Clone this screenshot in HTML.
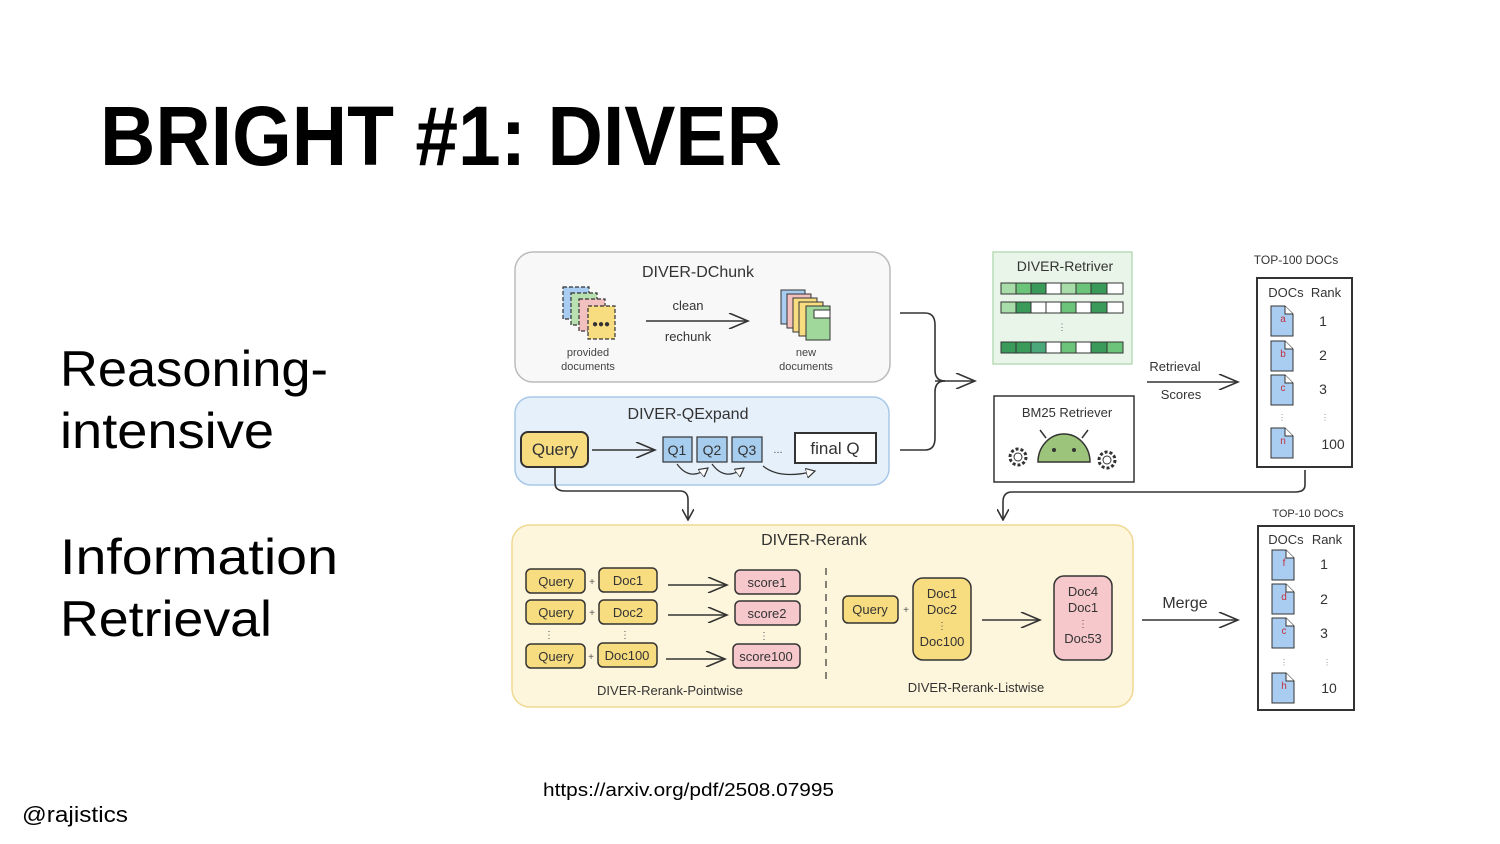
<!DOCTYPE html>
<html><head><meta charset="utf-8"><style>
html,body{margin:0;padding:0;background:#fff;}
body{width:1500px;height:844px;overflow:hidden;position:relative;font-family:"Liberation Sans",sans-serif;}
svg{position:absolute;left:0;top:0;}
</style></head><body>
<svg width="1500" height="844" viewBox="0 0 1500 844" xmlns="http://www.w3.org/2000/svg" font-family="Liberation Sans, sans-serif">
<defs>
<marker id="ah" viewBox="0 0 12 12" refX="11" refY="6" markerWidth="12" markerHeight="12" orient="auto" markerUnits="userSpaceOnUse"><path d="M0,0 L11,6 L0,12" fill="none" stroke="#333" stroke-width="1.6"/></marker>
<marker id="ah2" viewBox="0 0 20 16" refX="19" refY="8" markerWidth="22" markerHeight="16" orient="auto" markerUnits="userSpaceOnUse"><path d="M0,0 L19,8 L0,16" fill="none" stroke="#333" stroke-width="1.6"/></marker>
<marker id="tri" viewBox="0 0 10 10" refX="9" refY="5" markerWidth="10" markerHeight="10" orient="auto" markerUnits="userSpaceOnUse"><path d="M0,0 L9,5 L0,10 Z" fill="#fff" stroke="#333" stroke-width="1.2"/></marker>
<g id="doc"><path d="M0,0 H14 L22,8 V30 H0 Z" fill="#a9cdf0" stroke="#333" stroke-width="1"/><path d="M14,0 V8 H22" fill="#fff" stroke="#333" stroke-width="1"/></g>
</defs>

<!-- Title & side text -->
<text x="100" y="165" font-size="84" font-weight="bold" fill="#000" textLength="682" lengthAdjust="spacingAndGlyphs">BRIGHT #1: DIVER</text>
<text x="60" y="386" font-size="50" fill="#000" textLength="268" lengthAdjust="spacingAndGlyphs">Reasoning-</text>
<text x="60" y="448" font-size="50" fill="#000" textLength="214" lengthAdjust="spacingAndGlyphs">intensive</text>
<text x="60" y="574" font-size="50" fill="#000" textLength="278" lengthAdjust="spacingAndGlyphs">Information</text>
<text x="60" y="636" font-size="50" fill="#000" textLength="212" lengthAdjust="spacingAndGlyphs">Retrieval</text>
<text x="543" y="796" font-size="18" fill="#000" textLength="291" lengthAdjust="spacingAndGlyphs">https://arxiv.org/pdf/2508.07995</text>
<text x="22" y="822" font-size="22" fill="#000" textLength="106" lengthAdjust="spacingAndGlyphs">@rajistics</text>

<!-- DChunk -->
<rect x="515" y="252" width="375" height="130" rx="18" fill="#f8f8f8" stroke="#bbb" stroke-width="1.5"/>
<text x="698" y="277" font-size="16" text-anchor="middle" fill="#333">DIVER-DChunk</text>
<g stroke="#333" stroke-width="1.2" stroke-dasharray="4,2">
<rect x="563" y="287" width="26" height="32" fill="#a9cdf0"/>
<rect x="571" y="293" width="26" height="32" fill="#b8e0b0"/>
<rect x="579" y="299" width="26" height="32" fill="#f3c0c0"/>
<rect x="588" y="306" width="27" height="33" fill="#f8dc80"/>
</g>
<text x="601" y="327" font-size="10" text-anchor="middle" fill="#333">●●●</text>
<text x="588" y="356" font-size="11" text-anchor="middle" fill="#444">provided</text>
<text x="588" y="370" font-size="11" text-anchor="middle" fill="#444">documents</text>
<line x1="646" y1="321" x2="748" y2="321" stroke="#333" stroke-width="1.6" marker-end="url(#ah2)"/>
<text x="688" y="310" font-size="13" text-anchor="middle" fill="#333">clean</text>
<text x="688" y="341" font-size="13" text-anchor="middle" fill="#333">rechunk</text>
<g stroke="#333" stroke-width="1">
<rect x="781" y="290" width="24" height="34" fill="#a9cdf0"/>
<rect x="787" y="294" width="24" height="34" fill="#f3c0c0"/>
<rect x="793" y="298" width="24" height="34" fill="#f8dc80"/>
<rect x="799" y="302" width="24" height="34" fill="#f8dc80"/>
<rect x="806" y="306" width="24" height="34" fill="#9fd89a"/>
<rect x="814" y="310" width="16" height="8" fill="#fff"/>
</g>
<text x="806" y="356" font-size="11" text-anchor="middle" fill="#444">new</text>
<text x="806" y="370" font-size="11" text-anchor="middle" fill="#444">documents</text>

<!-- QExpand -->
<rect x="515" y="397" width="374" height="88" rx="16" fill="#e6f0fa" stroke="#a8c8e8" stroke-width="1.5"/>
<text x="688" y="419" font-size="16" text-anchor="middle" fill="#333">DIVER-QExpand</text>
<rect x="521" y="432" width="67" height="35" rx="7" fill="#f8dc80" stroke="#333" stroke-width="2"/>
<text x="555" y="455" font-size="17" text-anchor="middle" fill="#333">Query</text>
<line x1="592" y1="450" x2="655" y2="450" stroke="#333" stroke-width="1.6" marker-end="url(#ah2)"/>
<g stroke="#333" stroke-width="1.2" fill="#a7cdee">
<rect x="663" y="437" width="29" height="25"/><rect x="697" y="437" width="30" height="25"/><rect x="732" y="437" width="30" height="25"/>
</g>
<text x="677" y="455" font-size="14" text-anchor="middle" fill="#333">Q1</text>
<text x="712" y="455" font-size="14" text-anchor="middle" fill="#333">Q2</text>
<text x="747" y="455" font-size="14" text-anchor="middle" fill="#333">Q3</text>
<text x="778" y="453" font-size="11" text-anchor="middle" fill="#555">...</text>
<rect x="795" y="433" width="81" height="30" fill="#fff" stroke="#333" stroke-width="2"/>
<text x="835" y="454" font-size="17" text-anchor="middle" fill="#333">final Q</text>
<g fill="none" stroke="#333" stroke-width="1.2">
<path d="M677,464 Q690,482 708,468" marker-end="url(#tri)"/>
<path d="M712,464 Q725,482 744,468" marker-end="url(#tri)"/>
<path d="M763,466 Q780,480 815,471" marker-end="url(#tri)"/>
</g>

<!-- bracket -->
<g fill="none" stroke="#333" stroke-width="1.6">
<path d="M900,313 H925 Q935,313 935,325 V370 Q935,381 945,381"/>
<path d="M900,450 H925 Q935,450 935,438 V392 Q935,381 945,381"/>
<line x1="935" y1="381" x2="975" y2="381" marker-end="url(#ah2)"/>
<path d="M555,467 V483 Q555,491 565,491 H680 Q688,491 688,500 V520" marker-end="url(#ah)"/>
<path d="M1305,470 V485 Q1305,492 1295,492 H1012 Q1003,492 1003,502 V520" marker-end="url(#ah)"/>
</g>

<!-- Retriver -->
<rect x="993" y="252" width="139" height="112" fill="#e8f5e8" stroke="#b8dcb8" stroke-width="1.5"/>
<text x="1065" y="271" font-size="14" text-anchor="middle" fill="#333">DIVER-Retriver</text>
<g stroke="#333" stroke-width="1">
<rect x="1001" y="283" width="15" height="11" fill="#a8dca8"/><rect x="1016" y="283" width="15" height="11" fill="#6cc47a"/><rect x="1031" y="283" width="15" height="11" fill="#3a9a5a"/><rect x="1046" y="283" width="15" height="11" fill="#fff"/><rect x="1061" y="283" width="15" height="11" fill="#a8dca8"/><rect x="1076" y="283" width="15" height="11" fill="#6cc47a"/><rect x="1091" y="283" width="16" height="11" fill="#3a9a5a"/><rect x="1107" y="283" width="16" height="11" fill="#fff"/>
<rect x="1001" y="302" width="15" height="11" fill="#a8dca8"/><rect x="1016" y="302" width="15" height="11" fill="#3a9a5a"/><rect x="1031" y="302" width="15" height="11" fill="#fff"/><rect x="1046" y="302" width="15" height="11" fill="#fff"/><rect x="1061" y="302" width="15" height="11" fill="#6cc47a"/><rect x="1076" y="302" width="15" height="11" fill="#fff"/><rect x="1091" y="302" width="16" height="11" fill="#3a9a5a"/><rect x="1107" y="302" width="16" height="11" fill="#fff"/>
<rect x="1001" y="342" width="15" height="11" fill="#3a9a5a"/><rect x="1016" y="342" width="15" height="11" fill="#3a9a5a"/><rect x="1031" y="342" width="15" height="11" fill="#4aa87a"/><rect x="1046" y="342" width="15" height="11" fill="#fff"/><rect x="1061" y="342" width="15" height="11" fill="#6cc47a"/><rect x="1076" y="342" width="15" height="11" fill="#fff"/><rect x="1091" y="342" width="16" height="11" fill="#3a9a5a"/><rect x="1107" y="342" width="16" height="11" fill="#6cc47a"/>
</g>
<text x="1062" y="330" font-size="9" text-anchor="middle" fill="#666">⋮</text>

<!-- BM25 -->
<rect x="994" y="396" width="140" height="86" fill="#fff" stroke="#333" stroke-width="1.5"/>
<text x="1067" y="417" font-size="13" text-anchor="middle" fill="#333">BM25 Retriever</text>
<path d="M1038,462 A26,28 0 0 1 1090,462 Z" fill="#9cc47a" stroke="#333" stroke-width="1.5"/>
<line x1="1046" y1="438" x2="1040" y2="430" stroke="#333" stroke-width="1.5"/>
<line x1="1082" y1="438" x2="1088" y2="430" stroke="#333" stroke-width="1.5"/>
<circle cx="1054" cy="450" r="2" fill="#333"/><circle cx="1074" cy="450" r="2" fill="#333"/>
<circle cx="1018" cy="457" r="8" fill="#fff" stroke="#333" stroke-width="3" stroke-dasharray="3,2"/><circle cx="1018" cy="457" r="4" fill="none" stroke="#333" stroke-width="1"/>
<circle cx="1107" cy="460" r="8" fill="#fff" stroke="#333" stroke-width="3" stroke-dasharray="3,2"/><circle cx="1107" cy="460" r="4" fill="none" stroke="#333" stroke-width="1"/>

<!-- Retrieval scores -->
<line x1="1147" y1="382" x2="1238" y2="382" stroke="#333" stroke-width="1.6" marker-end="url(#ah2)"/>
<text x="1175" y="371" font-size="13" text-anchor="middle" fill="#333">Retrieval</text>
<text x="1181" y="399" font-size="13" text-anchor="middle" fill="#333">Scores</text>

<!-- TOP-100 -->
<text x="1296" y="264" font-size="12" text-anchor="middle" fill="#333">TOP-100 DOCs</text>
<rect x="1257" y="278" width="95" height="189" fill="#fff" stroke="#333" stroke-width="2"/>
<text x="1286" y="297" font-size="13" text-anchor="middle" fill="#333">DOCs</text>
<text x="1326" y="297" font-size="13" text-anchor="middle" fill="#333">Rank</text>
<use href="#doc" x="1271" y="306"/><use href="#doc" x="1271" y="341"/><use href="#doc" x="1271" y="375"/><use href="#doc" x="1271" y="428"/>
<g font-size="10" fill="#c03040" text-anchor="middle"><text x="1283" y="322">a</text><text x="1283" y="357">b</text><text x="1283" y="391">c</text><text x="1283" y="444">n</text></g>
<text x="1323" y="326" font-size="14" text-anchor="middle" fill="#333">1</text>
<text x="1323" y="360" font-size="14" text-anchor="middle" fill="#333">2</text>
<text x="1323" y="394" font-size="14" text-anchor="middle" fill="#333">3</text>
<text x="1282" y="420" font-size="8" text-anchor="middle" fill="#888">⋮</text><text x="1325" y="420" font-size="8" text-anchor="middle" fill="#888">⋮</text>
<text x="1333" y="449" font-size="14" text-anchor="middle" fill="#333">100</text>

<!-- Rerank -->
<rect x="512" y="525" width="621" height="182" rx="18" fill="#fdf6dc" stroke="#f0d890" stroke-width="1.5"/>
<text x="814" y="545" font-size="16" text-anchor="middle" fill="#333">DIVER-Rerank</text>
<g stroke="#333" stroke-width="1.5">
<rect x="526" y="569" width="59" height="24" rx="5" fill="#f8dc80"/><rect x="599" y="568" width="58" height="24" rx="5" fill="#f8dc80"/>
<rect x="526" y="600" width="59" height="24" rx="5" fill="#f8dc80"/><rect x="599" y="600" width="58" height="24" rx="5" fill="#f8dc80"/>
<rect x="526" y="644" width="59" height="24" rx="5" fill="#f8dc80"/><rect x="598" y="643" width="59" height="24" rx="5" fill="#f8dc80"/>
<rect x="735" y="570" width="65" height="24" rx="5" fill="#f6c8cc"/><rect x="735" y="601" width="65" height="24" rx="5" fill="#f6c8cc"/><rect x="733" y="644" width="67" height="24" rx="5" fill="#f6c8cc"/>
<rect x="843" y="596" width="55" height="27" rx="5" fill="#f8dc80"/>
<rect x="913" y="578" width="58" height="82" rx="10" fill="#f8dc80"/>
<rect x="1054" y="576" width="58" height="84" rx="10" fill="#f6c8cc"/>
</g>
<g font-size="13" text-anchor="middle" fill="#333">
<text x="556" y="586">Query</text><text x="628" y="585">Doc1</text>
<text x="556" y="617">Query</text><text x="628" y="617">Doc2</text>
<text x="556" y="661">Query</text><text x="627" y="660">Doc100</text>
<text x="767" y="587">score1</text><text x="767" y="618">score2</text><text x="766" y="661">score100</text>
<text x="870" y="614">Query</text>
<text x="942" y="598">Doc1</text><text x="942" y="614">Doc2</text><text x="942" y="646">Doc100</text>
<text x="1083" y="596">Doc4</text><text x="1083" y="612">Doc1</text><text x="1083" y="643">Doc53</text>
<text x="670" y="695">DIVER-Rerank-Pointwise</text>
<text x="976" y="692">DIVER-Rerank-Listwise</text>
</g>
<g font-size="10" text-anchor="middle" fill="#555">
<text x="592" y="585">+</text><text x="592" y="616">+</text><text x="591" y="660">+</text><text x="906" y="613">+</text>
<text x="549" y="638">⋮</text><text x="625" y="638">⋮</text><text x="764" y="639">⋮</text><text x="942" y="629">⋮</text><text x="1083" y="627">⋮</text>
</g>
<line x1="826" y1="568" x2="826" y2="680" stroke="#333" stroke-width="1.2" stroke-dasharray="7,6"/>
<g stroke="#333" stroke-width="1.6" marker-end="url(#ah2)">
<line x1="668" y1="585" x2="727" y2="585"/><line x1="668" y1="615" x2="727" y2="615"/><line x1="666" y1="659" x2="725" y2="659"/>
<line x1="982" y1="620" x2="1040" y2="620"/>
<line x1="1142" y1="620" x2="1238" y2="620"/>
</g>
<text x="1185" y="608" font-size="16" text-anchor="middle" fill="#333">Merge</text>

<!-- TOP-10 -->
<text x="1308" y="517" font-size="11" text-anchor="middle" fill="#333">TOP-10 DOCs</text>
<rect x="1258" y="526" width="96" height="184" fill="#fff" stroke="#333" stroke-width="2"/>
<text x="1286" y="544" font-size="13" text-anchor="middle" fill="#333">DOCs</text>
<text x="1327" y="544" font-size="13" text-anchor="middle" fill="#333">Rank</text>
<use href="#doc" x="1272" y="550"/><use href="#doc" x="1272" y="584"/><use href="#doc" x="1272" y="618"/><use href="#doc" x="1272" y="673"/>
<g font-size="10" fill="#c03040" text-anchor="middle"><text x="1284" y="566">f</text><text x="1284" y="600">d</text><text x="1284" y="634">c</text><text x="1284" y="689">h</text></g>
<text x="1324" y="569" font-size="14" text-anchor="middle" fill="#333">1</text>
<text x="1324" y="604" font-size="14" text-anchor="middle" fill="#333">2</text>
<text x="1324" y="638" font-size="14" text-anchor="middle" fill="#333">3</text>
<text x="1284" y="665" font-size="8" text-anchor="middle" fill="#888">⋮</text><text x="1327" y="665" font-size="8" text-anchor="middle" fill="#888">⋮</text>
<text x="1329" y="693" font-size="14" text-anchor="middle" fill="#333">10</text>
</svg>
</body></html>
